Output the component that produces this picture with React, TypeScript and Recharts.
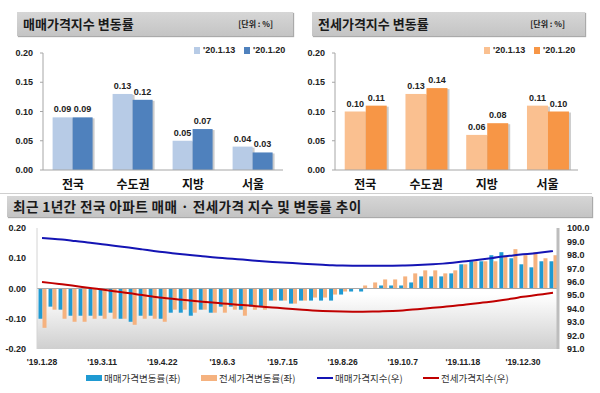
import React from 'react';
import {
  BarChart,
  Bar,
  ComposedChart,
  Line,
  XAxis,
  YAxis,
  CartesianGrid,
  LabelList,
  ReferenceLine,
} from 'recharts';

const KR = "'Noto Sans CJK KR', sans-serif";
const NUM = "'Liberation Sans', Arial, sans-serif";

// weekly change by region (%)
const regions = ['전국', '수도권', '지방', '서울'];
const saleJan13 = [0.09, 0.13, 0.05, 0.04];
const saleJan20 = [0.09, 0.12, 0.07, 0.03];
const jeonseJan13 = [0.1, 0.13, 0.06, 0.11];
const jeonseJan20 = [0.11, 0.14, 0.08, 0.1];
const regionTicks = [0, 0.05, 0.1, 0.15, 0.2];

// one year, weekly
const weeks = [
  "'19.1.28", "'19.2.4", "'19.2.11", "'19.2.18", "'19.2.25", "'19.3.4", "'19.3.11", "'19.3.18",
  "'19.3.25", "'19.4.1", "'19.4.8", "'19.4.15", "'19.4.22", "'19.4.29", "'19.5.6", "'19.5.13",
  "'19.5.20", "'19.5.27", "'19.6.3", "'19.6.10", "'19.6.17", "'19.6.24", "'19.7.1", "'19.7.8",
  "'19.7.15", "'19.7.22", "'19.7.29", "'19.8.5", "'19.8.12", "'19.8.19", "'19.8.26", "'19.9.2",
  "'19.9.9", "'19.9.16", "'19.9.23", "'19.9.30", "'19.10.7", "'19.10.14", "'19.10.21", "'19.10.28",
  "'19.11.4", "'19.11.11", "'19.11.18", "'19.11.25", "'19.12.2", "'19.12.9", "'19.12.16", "'19.12.23",
  "'19.12.30", "'20.1.6", "'20.1.13", "'20.1.20",
];
const saleRate = [
  -0.1, -0.06, -0.07, -0.09, -0.09, -0.09, -0.09, -0.08, -0.1, -0.11, -0.09, -0.09, -0.1,
  -0.08, -0.08, -0.09, -0.07, -0.08, -0.06, -0.06, -0.07, -0.06, -0.06, -0.04, -0.04, -0.05,
  -0.04, -0.04, -0.04, -0.04, -0.02, -0.01, -0.01, 0.0, 0.01, 0.01, 0.01, 0.02, 0.04,
  0.04, 0.04, 0.05, 0.08, 0.09, 0.09, 0.11, 0.12, 0.1, 0.08, 0.07, 0.09, 0.09,
];
const jeonseRate = [
  -0.13, -0.07, -0.1, -0.11, -0.11, -0.1, -0.1, -0.1, -0.1, -0.12, -0.1, -0.1, -0.11,
  -0.07, -0.07, -0.08, -0.07, -0.08, -0.08, -0.07, -0.09, -0.07, -0.07, -0.04, -0.04, -0.05,
  -0.04, -0.03, -0.03, -0.02, -0.01, 0.0, 0.01, 0.02, 0.03, 0.03, 0.04, 0.05, 0.06,
  0.06, 0.05, 0.06, 0.08, 0.09, 0.09, 0.09, 0.11, 0.13, 0.11, 0.12, 0.1, 0.11,
];
const saleIndex = [
  99.25, 99.2, 99.14, 99.06, 98.98, 98.88, 98.79, 98.7, 98.61, 98.51, 98.41, 98.31, 98.21,
  98.13, 98.05, 97.97, 97.9, 97.83, 97.77, 97.71, 97.65, 97.59, 97.53, 97.48, 97.44, 97.39,
  97.35, 97.31, 97.27, 97.23, 97.21, 97.2, 97.19, 97.19, 97.19, 97.2, 97.21, 97.23, 97.26,
  97.3, 97.35, 97.42, 97.5, 97.58, 97.67, 97.77, 97.88, 97.96, 98.04, 98.11, 98.19, 98.28,
];
const jeonseIndex = [
  95.98, 95.9, 95.81, 95.72, 95.62, 95.52, 95.42, 95.32, 95.22, 95.12, 95.01, 94.91, 94.81,
  94.73, 94.66, 94.59, 94.52, 94.45, 94.39, 94.33, 94.27, 94.21, 94.15, 94.09, 94.03, 93.97,
  93.92, 93.87, 93.83, 93.8, 93.78, 93.77, 93.77, 93.78, 93.8, 93.83, 93.87, 93.93, 94.0,
  94.06, 94.13, 94.2, 94.28, 94.36, 94.45, 94.54, 94.64, 94.75, 94.88, 94.98, 95.08, 95.18,
];
const rateTicks = [-0.2, -0.1, 0, 0.1, 0.2];
const indexTicks = [91, 92, 93, 94, 95, 96, 97, 98, 99, 100];

const ShadowBar = (props: any) => {
  const { x, y, width, height, fill } = props;
  if (!height) return null;
  return (
    <g>
      <rect x={x + 2} y={y + 1} width={width} height={height - 1} fill="#000" opacity={0.2} />
      <rect x={x} y={y} width={width} height={height} fill={fill} />
    </g>
  );
};

const TitleBar = ({ left, top, width, height, text, unit, size = 13, spacing = 0 }: any) => (
  <div
    style={{
      position: 'absolute',
      left,
      top,
      width,
      height,
      background: 'linear-gradient(#d6d6d6, #c4c4c4)',
      boxShadow: '1px 1px 1px #aaa',
      fontFamily: KR,
      fontWeight: 700,
      fontSize: size,
      letterSpacing: spacing,
      color: '#1a1a1a',
      lineHeight: height + 'px',
      paddingLeft: 6,
      boxSizing: 'border-box',
    }}
  >
    {text}
    {unit && (
      <span style={{ position: 'absolute', right: 20, top: 0, fontSize: 8, fontWeight: 700 }}>{unit}</span>
    )}
  </div>
);

const LegendKey = ({ left, top, color, text }: any) => (
  <div style={{ position: 'absolute', left, top, display: 'flex', alignItems: 'center' }}>
    <div style={{ width: 6, height: 7, background: color, marginRight: 3 }} />
    <span style={{ fontFamily: NUM, fontWeight: 700, fontSize: 9, color: '#222' }}>{text}</span>
  </div>
);

const RegionChart = ({ left, axisWidth, right, first, second, lightColor, darkColor }: any) => {
  const data = regions.map((r, i) => ({ region: r, first: first[i], second: second[i] }));
  const tickStyle = { fontSize: 9, fontWeight: 700, fill: '#222', fontFamily: NUM };
  const labelStyle = { fontSize: 9, fontWeight: 700, fill: '#222', fontFamily: NUM };
  return (
    <div style={{ position: 'absolute', left, top: 40 }}>
      <BarChart
        width={300}
        height={158}
        data={data}
        margin={{ top: 13, right, left: 0, bottom: 0 }}
        barCategoryGap="16%"
        barGap={0}
      >
        <XAxis
          dataKey="region"
          interval={0}
          axisLine={{ stroke: '#a6a6a6' }}
          tickLine={false}
          tickMargin={4}
          height={28}
          tick={{ fontSize: 12, fontWeight: 700, fill: '#111', fontFamily: KR }}
        />
        <YAxis
          domain={[0, 0.2]}
          ticks={regionTicks}
          width={axisWidth}
          tickFormatter={(v: number) => v.toFixed(2)}
          axisLine={{ stroke: '#a6a6a6' }}
          tickLine={{ stroke: '#a6a6a6' }}
          tickSize={3}
          tickMargin={7}
          tick={tickStyle}
        />
        <Bar dataKey="first" fill={lightColor} isAnimationActive={false} shape={ShadowBar}>
          <LabelList dataKey="first" position="top" offset={5} formatter={(v: any) => Number(v).toFixed(2)} style={labelStyle} />
        </Bar>
        <Bar dataKey="second" fill={darkColor} isAnimationActive={false} shape={ShadowBar}>
          <LabelList dataKey="second" position="top" offset={5} formatter={(v: any) => Number(v).toFixed(2)} style={labelStyle} />
        </Bar>
      </BarChart>
    </div>
  );
};

const TrendChart = () => {
  const data = weeks.map((w, i) => ({
    week: w,
    saleRate: saleRate[i],
    jeonseRate: jeonseRate[i],
    saleIndex: saleIndex[i],
    jeonseIndex: jeonseIndex[i],
  }));
  const tickStyle = { fontSize: 9, fontWeight: 700, fill: '#222', fontFamily: NUM };
  return (
    <div style={{ position: 'absolute', left: 0, top: 220 }}>
      <ComposedChart
        width={600}
        height={149}
        data={data}
        margin={{ top: 8, right: 0, left: 0, bottom: 0 }}
        barCategoryGap="15%"
        barGap={0}
      >
        <defs>
          <linearGradient id="plotBg" x1="0" y1="0" x2="0" y2="1">
            <stop offset="0%" stopColor="#ffffff" />
            <stop offset="55%" stopColor="#ffffff" />
            <stop offset="100%" stopColor="#cfcfcf" />
          </linearGradient>
        </defs>
        <CartesianGrid yAxisId="left" horizontal={false} vertical={false} fill="url(#plotBg)" />
        <XAxis
          dataKey="week"
          interval={5}
          axisLine={false}
          tickLine={false}
          tickMargin={4}
          height={20}
          tick={{ ...tickStyle, fontSize: 8.5 }}
        />
        <YAxis
          yAxisId="left"
          domain={[-0.2, 0.2]}
          ticks={rateTicks}
          interval={0}
          width={37}
          tickFormatter={(v: number) => v.toFixed(2)}
          axisLine={{ stroke: '#d4d4d4' }}
          tickLine={false}
          tickMargin={5}
          tick={tickStyle}
        />
        <YAxis
          yAxisId="right"
          orientation="right"
          domain={[91, 100]}
          ticks={indexTicks}
          interval={0}
          width={42}
          tickFormatter={(v: number) => v.toFixed(1)}
          axisLine={{ stroke: '#bdbdbd', strokeWidth: 3 }}
          tickLine={false}
          tickMargin={3}
          tick={tickStyle}
        />
        <ReferenceLine yAxisId="left" y={0} stroke="#a6a6a6" />
        <Bar yAxisId="left" dataKey="saleRate" fill="#1f9ad2" isAnimationActive={false} />
        <Bar yAxisId="left" dataKey="jeonseRate" fill="#f5b27f" isAnimationActive={false} />
        <Line yAxisId="right" type="monotone" dataKey="saleIndex" stroke="#1414b4" strokeWidth={2} dot={false} isAnimationActive={false} />
        <Line yAxisId="right" type="monotone" dataKey="jeonseIndex" stroke="#c00000" strokeWidth={2} dot={false} isAnimationActive={false} />
      </ComposedChart>
    </div>
  );
};

const BottomKey = ({ left, color, line, text }: any) => (
  <div style={{ position: 'absolute', left, top: 371, display: 'flex', alignItems: 'center', height: 14 }}>
    <div style={{ width: 16, height: line ? 2 : 6, background: color, marginRight: 2 }} />
    <span style={{ fontFamily: KR, fontSize: 9.5, color: '#333' }}>{text}</span>
  </div>
);

export default function App() {
  return (
    <div style={{ position: 'absolute', left: 0, top: 0, width: 600, height: 393, background: '#fff', overflow: 'hidden' }}>
      <TitleBar left={17} top={12} width={276} height={24} text="매매가격지수 변동률" unit="[단위 : %]" />
      <TitleBar left={312} top={12} width={273} height={24} text="전세가격지수 변동률" unit="[단위 : %]" />

      <RegionChart left={0} axisWidth={43} right={17} first={saleJan13} second={saleJan20} lightColor="#b7cbe6" darkColor="#4f81bd" />
      <RegionChart left={300} axisWidth={35} right={22} first={jeonseJan13} second={jeonseJan20} lightColor="#fac090" darkColor="#f79646" />

      <LegendKey left={194} top={45} color="#b7cbe6" text="'20.1.13" />
      <LegendKey left={244} top={45} color="#4f81bd" text="'20.1.20" />
      <LegendKey left={484} top={45} color="#fac090" text="'20.1.13" />
      <LegendKey left={534} top={45} color="#f79646" text="'20.1.20" />

      <div style={{ position: 'absolute', left: 0, top: 193, width: 592, height: 1, background: '#cfcfcf' }} />

      <TitleBar left={7} top={196} width={585} height={21} size={13.6} spacing={0.4} text="최근 1년간 전국 아파트 매매 · 전세가격 지수 및 변동률 추이" />
      <TrendChart />

      <BottomKey left={86} color="#1f9ad2" text="매매가격변동률(좌)" />
      <BottomKey left={201} color="#f5b27f" text="전세가격변동률(좌)" />
      <BottomKey left={317} color="#1414b4" line text="매매가격지수(우)" />
      <BottomKey left={423} color="#c00000" line text="전세가격지수(우)" />
    </div>
  );
}
